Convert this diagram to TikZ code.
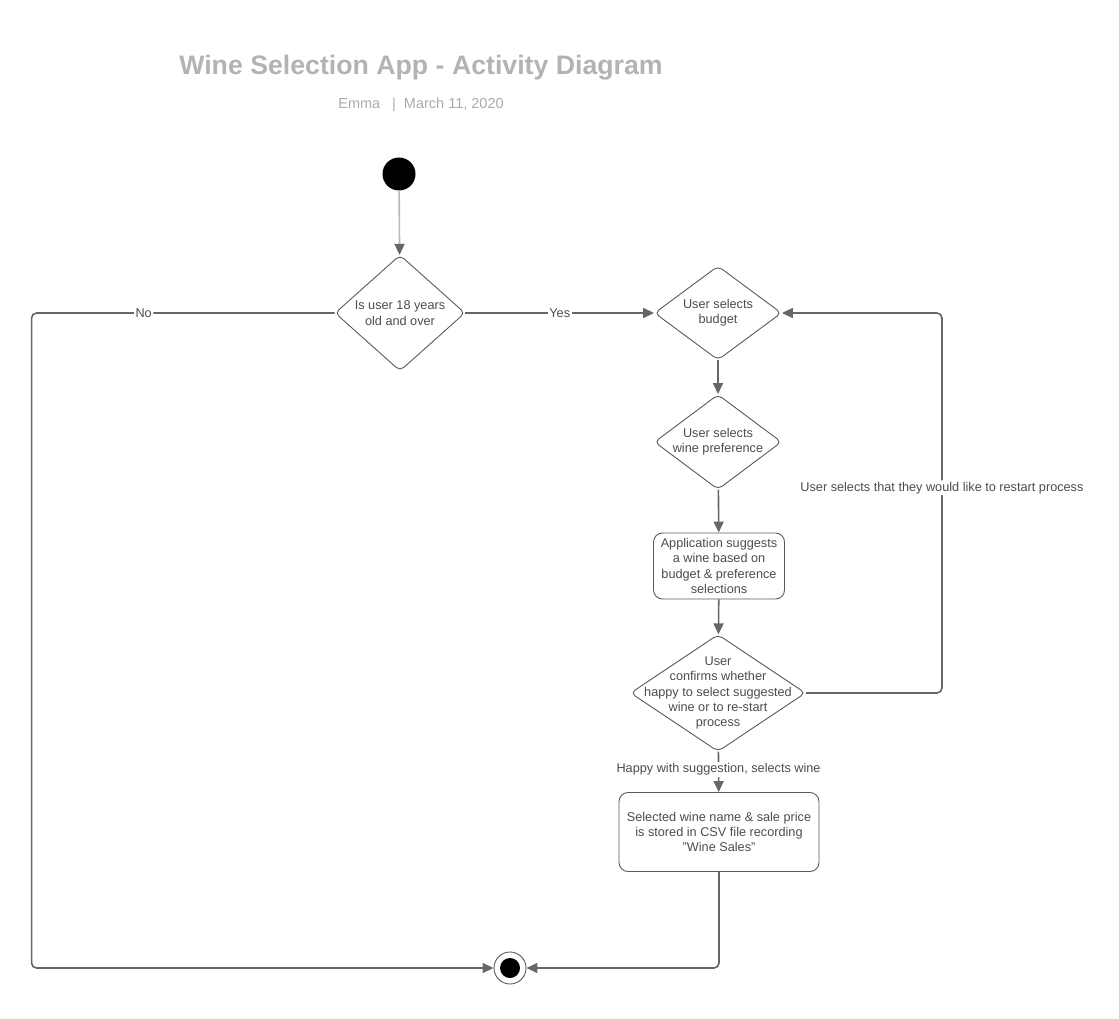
\documentclass[tikz,border=0pt]{standalone}
\usepackage{fontspec}
\setmainfont{Liberation Sans}
\usetikzlibrary{shapes.geometric, arrows.meta}

\definecolor{titlegray}{HTML}{B3B3B3}
\definecolor{subgray}{HTML}{ABABAB}
\definecolor{linegray}{HTML}{666666}
\definecolor{edgegray}{HTML}{5A5A5A}
\definecolor{textgray}{HTML}{4D4D4D}

\tikzset{
  decision/.style={diamond, draw=edgegray, line width=0.9pt, rounded corners=5pt, inner sep=0pt, fill=white},
  activity/.style={rectangle, draw=edgegray, line width=0.9pt, rounded corners=9pt, fill=white},
  txt/.style={text=textgray, font=\fontsize{12.7}{15.4}\selectfont, align=center},
  flow/.style={draw=linegray, line width=1.6pt, -{Triangle[length=11pt,width=10pt]}},
  guard/.style={txt, fill=white, inner sep=1.5pt},
}

\begin{document}
\begin{tikzpicture}[x=1pt, y=-1pt]
    \useasboundingbox (0,0) rectangle (1119,1019);

    % heading
    \node[font=\bfseries\fontsize{26.7}{30}\selectfont, text=titlegray] (title) at (421,68) {Wine Selection App - Activity Diagram};
    \node[font=\fontsize{14.5}{17}\selectfont, text=subgray] (subtitle) at (421,105) {Emma\hspace{12pt}|\hspace{8pt}March 11, 2020};

    % activity nodes
    \node[circle, fill=black, minimum size=33pt, inner sep=0pt] (start) at (399,174) {};
    \node[decision, minimum width=130pt, minimum height=116pt] (adult) at (400,313) {};
    \node[txt] at (adult) {Is user 18 years\\old and over};
    \node[decision, minimum width=127pt, minimum height=94pt] (budget) at (718,313) {};
    \node[txt] at (budget) {User selects\\budget};
    \node[decision, minimum width=127pt, minimum height=95pt] (pref) at (718,442) {};
    \node[txt] at (pref) {User selects\\wine preference};
    \node[activity, txt, minimum width=131pt, minimum height=66pt] (suggest) at (719,566) {Application suggests\\a wine based on\\budget \& preference\\selections};
    \node[decision, minimum width=175pt, minimum height=117pt] (confirm) at (718,693) {};
    \node[txt] at (confirm) {User\\confirms whether\\happy to select suggested\\wine or to re-start\\process};
    \node[activity, txt, minimum width=200pt, minimum height=79pt] (store) at (719,832) {Selected wine name \& sale price\\is stored in CSV file recording\\"Wine Sales"};
    \node[circle, draw=edgegray, line width=0.9pt, minimum size=32pt, inner sep=0pt] (final) at (510,968) {};
    \fill[black] (final) circle (10pt);

    % connectors
    \draw[flow, draw=gray!55, -{Triangle[length=11pt,width=10pt,color=linegray]}] (start) -- (adult);
    \draw[flow, rounded corners=5pt] (adult.west) -- node[guard, pos=0.63] {No} ++(-303,0) |- (final.west);
    \draw[flow] (adult.east) -- node[guard] {Yes} (budget.west);
    \draw[flow] (budget) -- (pref);
    \draw[flow] (pref) -- (suggest);
    \draw[flow] (suggest) -- (confirm);
    \draw[flow] (confirm) -- node[guard, pos=0.44] {Happy with suggestion, selects wine} (store);
    \draw[flow, rounded corners=5pt] (confirm.east) -- ++(136,0) |- node[guard, pos=0.27] {User selects that they would like to restart process} (budget.east);
    \draw[flow, rounded corners=5pt] (store) |- (final.east);

\end{tikzpicture}
\end{document}
